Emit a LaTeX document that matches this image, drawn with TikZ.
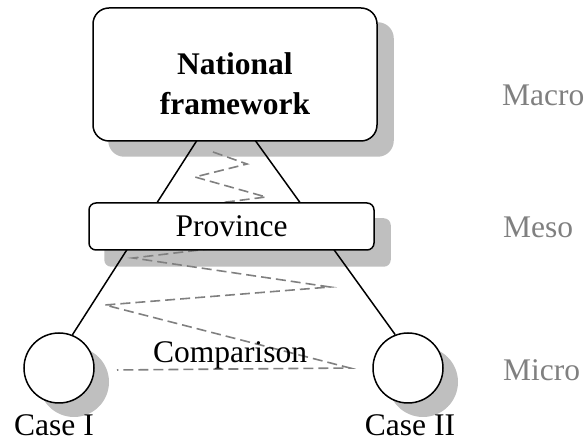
\documentclass[tikz,border=0pt]{standalone}
\usepackage{fontspec}
\setmainfont{Liberation Serif}
\usetikzlibrary{calc}
\colorlet{cshade}{black!25}
\colorlet{cdash}{black!50}
\colorlet{clevel}{black!50}
\pgfdeclarelayer{shade}
\pgfdeclarelayer{links}
\pgfsetlayers{shade,links,main}

\begin{document}
\begin{tikzpicture}[x=1pt,y=-1pt,
  every node/.style={font=\fontsize{31.5}{40}\selectfont, inner sep=0pt},
  box/.style={draw, fill=white, line width=1.5pt, rounded corners=#1},
  casecirc/.style={draw, fill=white, line width=1.5pt, circle, minimum size=70pt},
  link/.style={line width=1.5pt},
  zigzag/.style={cdash, line width=1.6pt, dash pattern=on 10pt off 5pt},
  level/.style={text=clevel, anchor=base west}]
\useasboundingbox (0,0) rectangle (584,443);
\node[box=16pt, minimum width=284pt, minimum height=133pt] (national) at (235,74.5) {};
\node[font=\fontsize{31.5}{40}\selectfont\bfseries, align=center] (nationaltxt) at (235,84) {National\\framework};
\node[box=7pt, minimum width=285pt, minimum height=47pt] (province) at (231.5,226.5) {Province};
\node[casecirc] (caseI) at (59,368) {};
\node[casecirc] (caseII) at (408,368) {};
\node[anchor=base] (caseIlab) at (54,436) {Case I};
\node[anchor=base] (caseIIlab) at (410,436) {Case II};
\node[anchor=base] (comparison) at (230,363) {Comparison};
\node[level] (macro) at (502,106) {Macro};
\node[level] (meso) at (503,238) {Meso};
\node[level] (micro) at (503,381) {Micro};
\begin{pgfonlayer}{shade}
\fill[cshade, rounded corners=16pt] ([shift={(16,15)}]national.north west) rectangle ([shift={(16,15)}]national.south east);
\fill[cshade, rounded corners=7pt] ([shift={(16,16)}]province.north west) rectangle ([shift={(16,16)}]province.south east);
\fill[cshade] ([shift={(15,14)}]caseI.center) circle (35pt);
\fill[cshade] ([shift={(15,14)}]caseII.center) circle (35pt);
\end{pgfonlayer}
\begin{pgfonlayer}{links}
\coordinate (nl) at ($(national.south)+(-37,-3)$);
\coordinate (nr) at ($(national.south)+(19,-3)$);
\draw[link] (nl) -- (caseI.68);
\draw[link] (nr) -- (caseII.111);
\draw[zigzag] (213,152) -- (247,164) -- (195,177) -- (266,197) -- (140,213) -- (300,238)
  -- (133,258) -- (330,287) -- (105,305) -- (350,368) -- (117,370);
\end{pgfonlayer}
\end{tikzpicture}
\end{document}
